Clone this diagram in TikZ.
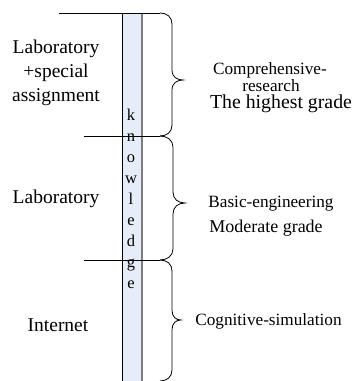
\documentclass[tikz,border=0pt]{standalone}
\usepackage{fontspec}
\setmainfont{Liberation Serif}
\definecolor{colbg}{RGB}{230,236,248}
\definecolor{coledge}{RGB}{125,125,125}
\tikzset{
  lefttxt/.style={anchor=base, inner sep=0pt, font=\fontsize{19.5}{24}\selectfont},
  smalltxt/.style={anchor=base, inner sep=0pt, font=\fontsize{17.2}{20}\selectfont},
  bigtxt/.style={anchor=base, inner sep=0pt, font=\fontsize{19.8}{22}\selectfont},
  midtxt/.style={anchor=base, inner sep=0pt, font=\fontsize{18}{22}\selectfont},
  letter/.style={anchor=base, inner sep=0pt, font=\fontsize{16.5}{20}\selectfont},
  rule/.style={line width=0.8pt, black},
  bracepath/.style={line width=0.8pt, black}
}
\begin{document}
\begin{tikzpicture}[x=1pt,y=-1pt]
\useasboundingbox (0,0) rectangle (355,381);
% knowledge column
\fill[colbg] (122,13) rectangle (142,390);
\draw[line width=0.7pt] (122,390) -- (122,13) -- (142,13);
\draw[coledge, line width=1.8pt] (142,13) -- (142,390);
% letters
\foreach \c/\yy [count=\i] in {k/120,n/141,o/162,w/183,l/204,e/225,d/246,g/267,e/288}
  \node[letter] (L\i) at (131,\yy) {\c};
% horizontal rules
\coordinate (r1a) at (59,13);  \coordinate (r1b) at (160,13);
\coordinate (r2a) at (84,136); \coordinate (r2b) at (160,136);
\coordinate (r3a) at (84,260); \coordinate (r3b) at (160,260);
\draw[rule] (r1a) -- (r1b);
\draw[rule] (r2a) -- (r2b);
\draw[rule] (r3a) -- (r3b);
% braces
\draw[bracepath] (r1b) .. controls (167,13) and (172,17) .. (172,24)
  -- (172,70) .. controls (172,77) and (177,80) .. (183,80)
  .. controls (177,80) and (172,83) .. (172,90)
  -- (172,125) .. controls (172,132) and (167,136) .. (r2b);
\draw[bracepath] (r2b) .. controls (167,136) and (173,140) .. (173,147)
  -- (173,192) .. controls (173,199) and (178,203) .. (185,203)
  .. controls (178,203) and (173,207) .. (173,214)
  -- (173,249) .. controls (173,256) and (167,260) .. (r3b);
\draw[bracepath] (r3b) .. controls (167,260) and (172,264) .. (172,271)
  -- (172,310) .. controls (172,317) and (176,320) .. (181,320)
  .. controls (176,320) and (172,323) .. (172,330)
  -- (172,370) .. controls (172,377) and (167,381) .. (160,381);
% left texts
\node[lefttxt] (t1a) at (56,53) {Laboratory};
\node[lefttxt] (t1b) at (56,77) {+special};
\node[lefttxt] (t1c) at (56,101) {assignment};
\node[lefttxt] (t2) at (56,203) {Laboratory};
\node[lefttxt] (t3) at (58,331) {Internet};
% right texts
\node[smalltxt] (c1) at (270,74) {Comprehensive-};
\node[smalltxt] (c2) at (271,91.5) {research};
\node[bigtxt] (c3) at (281,108.5) {The highest grade};
\node[smalltxt] (b1) at (271,207) {Basic-engineering};
\node[midtxt] (b2) at (266,232) {Moderate grade};
\node[smalltxt] (s1) at (268.5,325) {Cognitive-simulation};
\end{tikzpicture}
\end{document}
